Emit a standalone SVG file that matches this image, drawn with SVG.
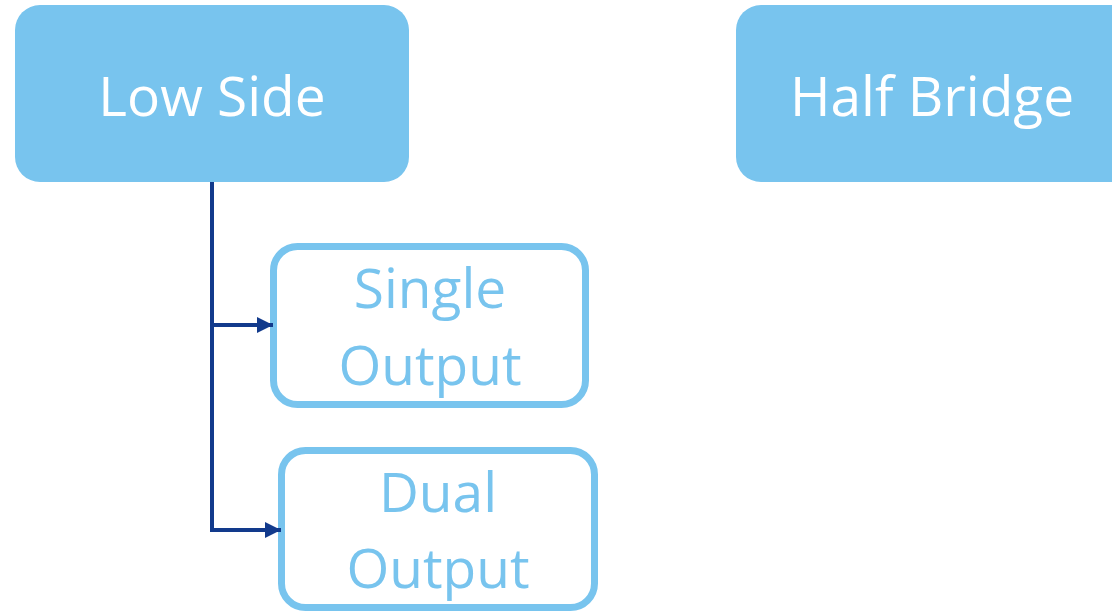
<svg xmlns="http://www.w3.org/2000/svg" width="1112" height="612" viewBox="0 0 1112 612">
<defs>
<style>
.top{fill:#78C4EE;}
.sub{fill:#FFFFFF;stroke:#78C4EE;stroke-width:7;}
.tw{fill:#FFFFFF;font-family:"Open Sans","Noto Sans",sans-serif;font-size:55px;text-anchor:middle;}
.tb{fill:#78C4EE;font-family:"Open Sans","Noto Sans",sans-serif;font-size:55px;text-anchor:middle;}
.conn{fill:none;stroke:#123A8C;stroke-width:4;}
</style>
<marker id="arr" markerWidth="16" markerHeight="16" refX="16" refY="8" orient="auto" markerUnits="userSpaceOnUse" viewBox="0 0 16 16">
<path d="M0,0 L16,8 L0,16 Z" fill="#123A8C"/>
</marker>
</defs>
<rect width="1112" height="612" fill="#FFFFFF"/>
<g id="low-side">
<rect class="top" x="15" y="5" width="394" height="177" rx="25"/>
<text class="tw" x="212" y="116">Low Side</text>
</g>
<g id="half-bridge">
<rect class="top" x="736" y="5" width="400" height="177" rx="25"/>
<text class="tw" x="932" y="116">Half Bridge</text>
</g>
<g id="single-output">
<rect class="sub" x="273.5" y="246.5" width="312" height="158" rx="24"/>
<text class="tb" x="430" y="308">Single</text>
<text class="tb" x="430" y="385">Output</text>
</g>
<g id="dual-output">
<rect class="sub" x="281.5" y="450.5" width="313" height="157" rx="24"/>
<text class="tb" x="438" y="512">Dual</text>
<text class="tb" x="438" y="588">Output</text>
</g>
<g id="connectors">
<path class="conn" d="M212,182 V325 H273" marker-end="url(#arr)"/>
<path class="conn" d="M212,325 V530 H281" marker-end="url(#arr)"/>
</g>
</svg>
